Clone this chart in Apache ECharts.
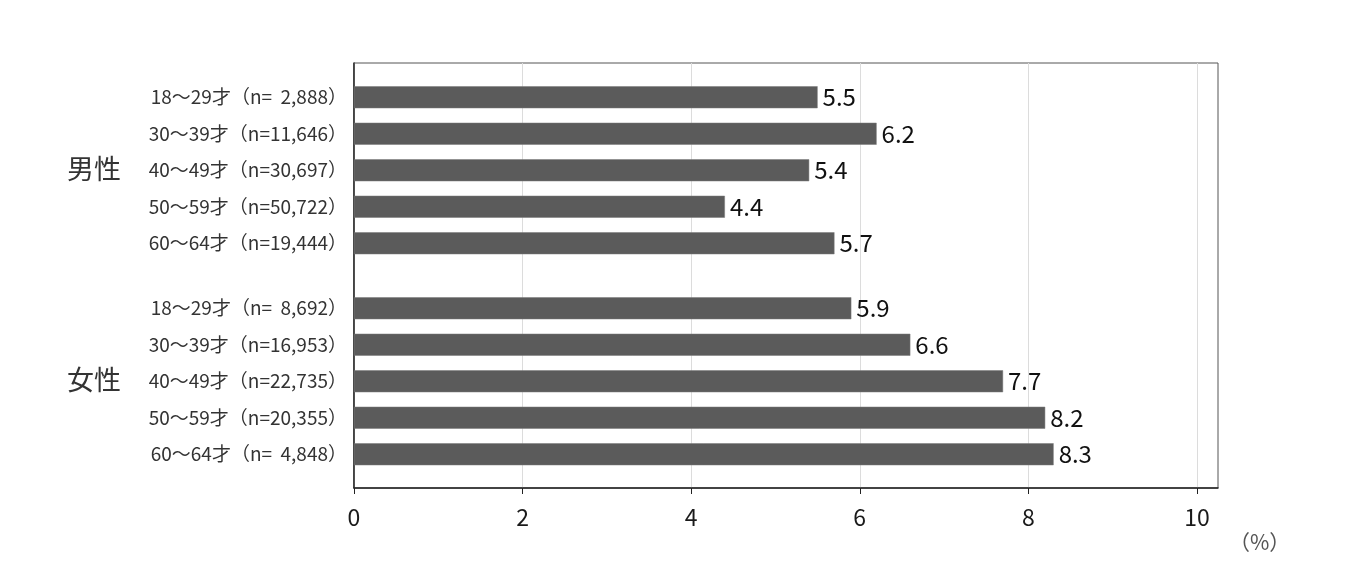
<!DOCTYPE html>
<html>
<head>
<meta charset="utf-8">
<script src="https://cdn.jsdelivr.net/npm/echarts@6/dist/echarts.min.js"></script>
<style>
html,body{margin:0;padding:0;background:#fff;}
#chart{width:1360px;height:567px;}
</style>
</head>
<body>
<div id="chart"></div>
<script>
const groupLabels = ['男性', '女性'];
const menCategories = ['18〜29才（n=  2,888）', '30〜39才（n=11,646）', '40〜49才（n=30,697）', '50〜59才（n=50,722）', '60〜64才（n=19,444）'];
const menValues = [5.5, 6.2, 5.4, 4.4, 5.7];
const womenCategories = ['18〜29才（n=  8,692）', '30〜39才（n=16,953）', '40〜49才（n=22,735）', '50〜59才（n=20,355）', '60〜64才（n=  4,848）'];
const womenValues = [5.9, 6.6, 7.7, 8.2, 8.3];
const xTicks = [0, 2, 4, 6, 8, 10];
const unitLabel = '（%）';

const FONT = '"Noto Sans CJK JP", "Noto Sans", sans-serif';
const X_MAX = 10.25;
const LEFT = 354, RIGHT = 142;

function barXAxis(gi) {
  return { gridIndex: gi, type: 'value', min: 0, max: X_MAX, show: false };
}
function barYAxis(gi, cats) {
  return {
    gridIndex: gi, type: 'category', data: cats, inverse: true,
    axisLine: { show: false }, axisTick: { show: false }, splitLine: { show: false },
    axisLabel: { margin: 7, fontSize: 19, color: '#333', fontFamily: FONT }
  };
}
function barSeries(gi, vals) {
  return {
    type: 'bar', xAxisIndex: gi, yAxisIndex: gi, data: vals, barWidth: 22,
    itemStyle: { color: '#5b5b5b', borderColor: '#7a7a7a', borderWidth: 0.5 },
    label: { show: true, position: 'right', distance: 5, fontSize: 24, color: '#111', fontFamily: FONT,
      formatter: p => p.value.toFixed(1) },
    silent: true, animation: false
  };
}

const chart = echarts.init(document.getElementById('chart'));
chart.setOption({
  animation: false,
  textStyle: { fontFamily: FONT },
  grid: [
    { left: LEFT, right: RIGHT, top: 63, bottom: 79, show: true, borderColor: '#555', borderWidth: 1, backgroundColor: 'transparent' },
    { left: LEFT, right: RIGHT, top: 79, height: 182.5 },
    { left: LEFT, right: RIGHT, top: 290, height: 182.5 }
  ],
  xAxis: [
    {
      gridIndex: 0, type: 'value', min: 0, max: X_MAX, interval: 2,
      axisLine: { show: true, lineStyle: { color: '#222', width: 1.5 } },
      axisTick: { show: true, length: 6, customValues: xTicks, lineStyle: { color: '#222' } },
      axisLabel: { margin: 18, fontSize: 23, color: '#1a1a1a', fontFamily: FONT, customValues: xTicks },
      splitLine: { show: true, lineStyle: { color: '#dcdcdc', width: 1 } }
    },
    barXAxis(1), barXAxis(2)
  ],
  yAxis: [
    {
      gridIndex: 0, type: 'value', min: 0, max: 1,
      axisLine: { show: true, lineStyle: { color: '#222', width: 1.5 } },
      axisTick: { show: false }, axisLabel: { show: false }, splitLine: { show: false }
    },
    barYAxis(1, menCategories), barYAxis(2, womenCategories)
  ],
  series: [barSeries(1, menValues), barSeries(2, womenValues)],
  graphic: [
    { type: 'text', left: 67, top: 155, style: { text: groupLabels[0], fontSize: 27, fill: '#333', fontFamily: FONT } },
    { type: 'text', left: 67, top: 366, style: { text: groupLabels[1], fontSize: 27, fill: '#333', fontFamily: FONT } },
    { type: 'text', left: 1229, top: 532, style: { text: unitLabel, fontSize: 21, fill: '#555', fontFamily: FONT } }
  ]
});
</script>
</body>
</html>
